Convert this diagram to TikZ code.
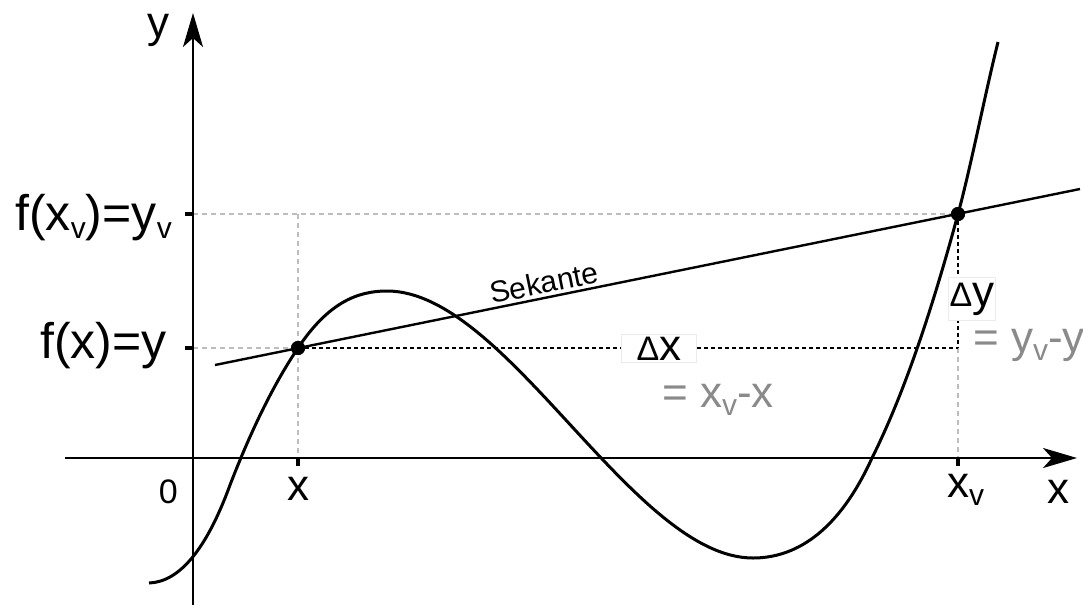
\documentclass[tikz,border=0pt]{standalone}
\usepackage{fontspec}
\setmainfont{Liberation Sans}
\usetikzlibrary{arrows.meta,positioning,calc}
\definecolor{hint}{HTML}{BDBDBD}
\definecolor{muted}{HTML}{8A8A8A}
\newcommand{\sub}[1]{\raisebox{-8pt}{\fontsize{30}{30}\selectfont #1}}
\newcommand{\dsym}{{\fontsize{34}{34}\selectfont Δ}}
\tikzset{
  axis/.style={line width=2.4pt, -{Stealth[length=34pt,width=20pt,inset=9pt]}},
  tick/.style={line width=3.5pt},
  graph/.style={line width=3pt, line join=round},
  guide/.style={draw=hint, line width=2.2pt, dash pattern=on 5pt off 4pt},
  delta/.style={line width=2.2pt, dash pattern=on 4pt off 3pt},
  dot/.style={circle, fill=black, inner sep=0pt, minimum size=14pt},
  lbl/.style={inner sep=0pt, font=\fontsize{44}{50}\selectfont},
  ylbl/.style={inner sep=0pt, font=\fontsize{50}{56}\selectfont},
  diffbox/.style={fill=white, draw=black!8, line width=1pt, inner xsep=15pt, inner ysep=2pt,
    font=\fontsize{44}{50}\selectfont},
  note/.style={inner sep=0pt, text=muted, font=\fontsize{44}{50}\selectfont}
}
\begin{document}
\begin{tikzpicture}[x=1pt, y=-1pt]
  \useasboundingbox (0,0) rectangle (1083,605);
  % axes and reference points
  \coordinate (O) at (193,458);
  \coordinate (ytop) at (193,13);
  \coordinate (ybot) at (193,605);
  \coordinate (xleft) at (65,458);
  \coordinate (xright) at (1077,458);
  \coordinate (Px) at (298,458);
  \coordinate (Qx) at (958,458);
  \coordinate (Py) at (193,348);
  \coordinate (Qy) at (193,214);
  \coordinate (Pt) at (298,214);
  \coordinate (C) at (958,348);
  \coordinate (s1) at (215,365);
  \coordinate (s2) at (1080,189);
  \node[dot] (P) at (298,348) {};
  \node[dot] (Q) at (958,214) {};
  % guide lines
  \draw[guide] (Qy) -- (Q.center);
  \draw[guide] (Py) -- (P.center);
  \draw[guide] (Pt) -- (Px);
  \draw[guide] (C) -- (Qx);
  % axes
  \draw[axis] (ybot) -- (ytop);
  \draw[axis] (xleft) -- (xright);
  \draw[tick] (Px) -- ++(0,8);
  \draw[tick] (Qx) -- ++(0,8);
  \draw[tick] (Py) -- ++(-8,0);
  \draw[tick] (Qy) -- ++(-8,0);
  % function
  \draw[graph] (149,583) .. controls (180,582) and (207,548) .. (230,485)
    .. controls (252,428) and (275,382) .. (P.center)
    .. controls (328,303) and (357,291) .. (387,291)
    .. controls (507,291) and (633,558) .. (753,558)
    .. controls (793,558) and (837,535) .. (872,458)
    .. controls (901,400) and (929,321) .. (Q.center)
    .. controls (971,166) and (985,94) .. (998,42);
  % secant
  \draw[line width=2.4pt] (s1) -- (s2) node[pos=0.384, sloped, above=3pt, inner sep=0pt,
    font=\fontsize{30}{34}\selectfont] (sek) {Sekante};
  % differences
  \draw[delta] (P.center) -- (C);
  \draw[delta] (Q.center) -- (C);
  \node[diffbox, anchor=base] (dx) at (659,360) {\dsym x};
  \node[diffbox, inner xsep=1pt, inner ysep=5pt, anchor=base west] (dy) at (948,306) {\dsym y};
  \node[note, anchor=base west] (dxv) at (662,407) {= x\sub{v}-x};
  \node[note, anchor=base west] (dyv) at (973,352) {= y\sub{v}-y};
  % labels
  \node[lbl, anchor=base west] (ylab) at (147,37) {y};
  \node[lbl, anchor=base] (xlab) at (1058,503) {x};
  \node[inner sep=0pt, anchor=base east, font=\fontsize{34}{40}\selectfont] (zero) at (178,503) {0};
  \node[lbl, anchor=base] (xp) at (298,500) {x};
  \node[lbl, anchor=base west] (xq) at (947,497) {x\sub{v}};
  \node[ylbl, anchor=base east] (yq) at (172,230) {f(x\sub{v})=y\sub{v}};
  \node[ylbl, anchor=base east] (yp) at (167,358) {f(x)=y};
  \node[dot] at (P) {};
  \node[dot] at (Q) {};
\end{tikzpicture}
\end{document}
